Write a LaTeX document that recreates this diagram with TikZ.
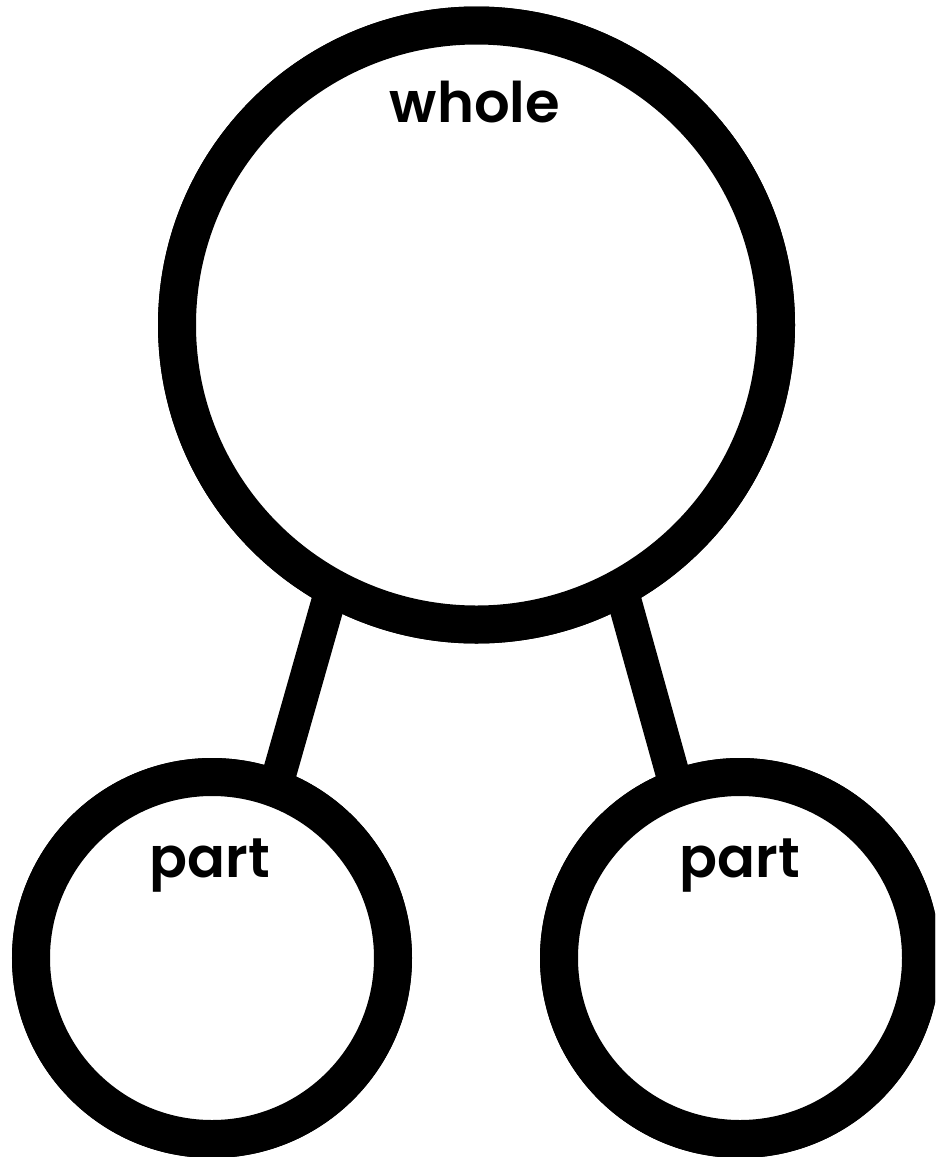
\documentclass[tikz,border=0pt]{standalone}
\usepackage{fontspec}
\newfontfamily\lblfont{Poppins}[UprightFont={* SemiBold}]
\usetikzlibrary{positioning}

\begin{document}
\begin{tikzpicture}[
  x=1pt, y=-1pt,
  ring/.style  = {circle, draw, line width=38pt, inner sep=0pt, fill=white},
  big/.style   = {ring, minimum size=599pt},
  small/.style = {ring, minimum size=362pt},
  link/.style  = {line width=34pt, shorten <=-14pt, shorten >=-14pt},
  lbl/.style   = {anchor=base, inner sep=0pt, font=\lblfont\fontsize{56}{60}\selectfont}
]
\useasboundingbox (0,0) rectangle (935,1157);
\clip (0,0) rectangle (935,1157);

\node[big]   (whole) at (476.5, 325) {};
\node[small] (partL) at (212,   958) {};
\node[small] (partR) at (740,   958) {};

\draw[link] (whole.242) -- (partL.70);
\draw[link] (whole.298) -- (partR.110);

% redraw rings over the link ends
\node[big]   at (whole) {};
\node[small] at (partL) {};
\node[small] at (partR) {};

\node[lbl] (wholetxt) at (475, 122) {whole};
\node[lbl] (partLtxt) at (210, 877) {part};
\node[lbl] (partRtxt) at (740, 877) {part};
\end{tikzpicture}
\end{document}
